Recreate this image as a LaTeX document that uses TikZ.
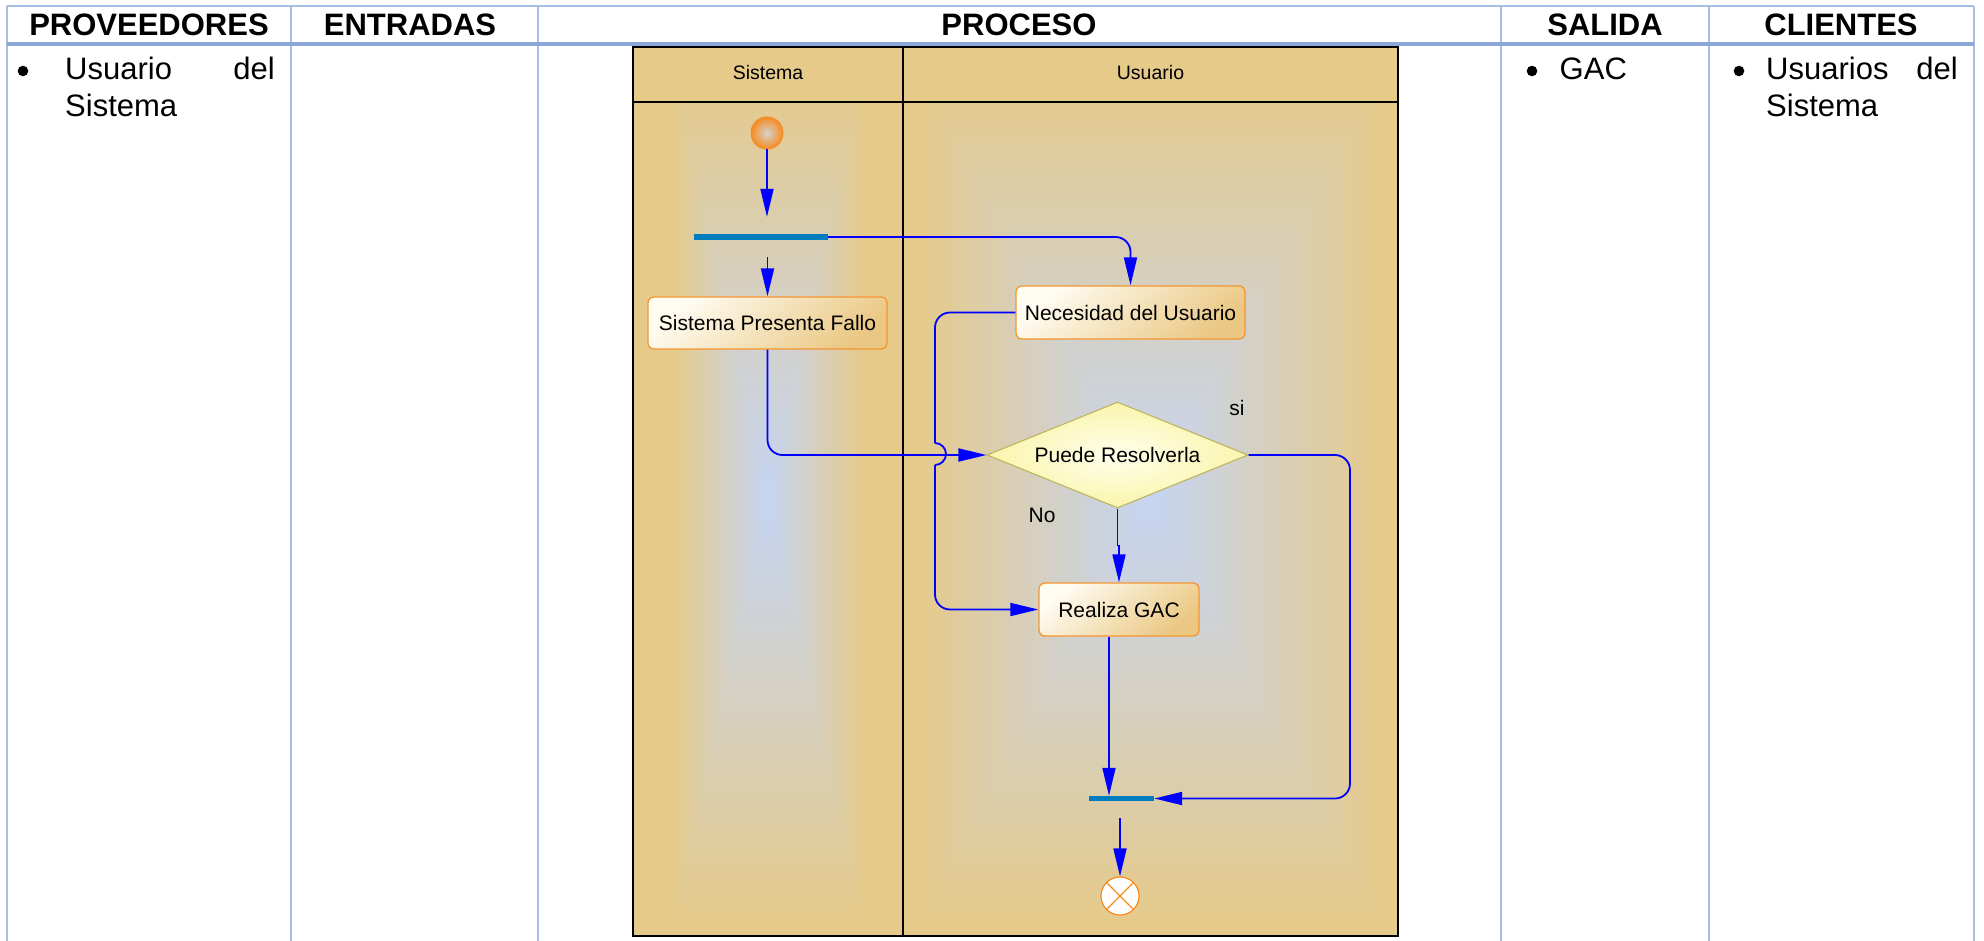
\documentclass[tikz,border=0pt]{standalone}
\usepackage{fontspec}
\setmainfont{Liberation Sans}
\usetikzlibrary{shapes.geometric,arrows.meta,calc}

% table colours
\definecolor{tableline}{RGB}{166,190,228}
\definecolor{tablehead}{RGB}{140,168,216}
% swimlane colours
\definecolor{lanetan}{RGB}{230,202,137}
% activity colours
\definecolor{boxlight}{RGB}{255,252,242}
\definecolor{boxdark}{RGB}{234,200,132}
\definecolor{boxorange}{RGB}{245,150,50}
\definecolor{decin}{RGB}{255,255,236}
\definecolor{decout}{RGB}{250,245,172}
\definecolor{decborder}{RGB}{190,180,95}
\definecolor{barblue}{RGB}{0,125,190}
\definecolor{flowblue}{RGB}{0,0,255}
\definecolor{startorange}{RGB}{245,140,35}
\definecolor{startcore}{RGB}{214,210,205}

% Rectangular glow: light blue core fading out to tan at the lane borders.
% The shaded path covers the central 25bp..75bp square of the shading.
% t = max(kx*|x|, ky*|y|) in normalised coordinates, colour = mix(blue, tan, t).
\pgfdeclarefunctionalshading{glowsis}{\pgfpointorigin}{\pgfpoint{100bp}{100bp}}{}{
  51.25 sub abs 25 div 0.97 mul
  exch 50 sub abs 25 div 1.4 mul
  2 copy lt {exch} if pop
  dup 1 gt {pop 1} if
  dup dup
  -0.416 mul 0.953 add
  3 1 roll
  -0.043 mul 0.835 add
  exch
  0.126 mul 0.776 add
  3 1 roll
  exch
}
\pgfdeclarefunctionalshading{glowusu}{\pgfpointorigin}{\pgfpoint{100bp}{100bp}}{}{
  51.25 sub abs 25 div 0.97 mul
  exch 50 sub abs 25 div 1.05 mul
  2 copy lt {exch} if pop
  dup 1 gt {pop 1} if
  dup dup
  -0.416 mul 0.953 add
  3 1 roll
  -0.043 mul 0.835 add
  exch
  0.126 mul 0.776 add
  3 1 roll
  exch
}

\newcommand\hdrfont{\fontsize{31}{37}\selectfont\bfseries}
\newcommand\bodyfont{\fontsize{31}{37}\selectfont}
\newcommand\actfont{\fontsize{21}{25}\selectfont}
\newcommand\lanefont{\fontsize{19.5}{23}\selectfont}

\tikzset{
  hdr/.style={anchor=base, inner sep=0pt, font=\hdrfont},
  bodyw/.style={anchor=base west, inner sep=0pt, font=\bodyfont},
  bodye/.style={anchor=base east, inner sep=0pt, font=\bodyfont},
  lanelbl/.style={inner sep=0pt, font=\lanefont},
  lbl/.style={inner sep=0pt, font=\actfont},
  act/.style={draw=boxorange, line width=1.3pt, rounded corners=6pt,
    top color=boxlight, bottom color=boxdark, shading angle=40,
    inner sep=0pt, font=\actfont},
  decision/.style={diamond, aspect=2.46, draw=decborder, line width=1.1pt,
    inner color=decin, outer color=decout, inner sep=0pt,
    minimum width=261pt, minimum height=106pt, font=\actfont},
  bar/.style={fill=barblue, draw=none, inner sep=0pt},
  startdot/.style={circle, minimum size=32pt, inner sep=0pt, draw=startorange,
    line width=1pt, inner color=startcore, outer color=startorange},
  enddot/.style={circle, minimum size=38pt, inner sep=0pt, draw=startorange,
    line width=1.2pt, fill=white},
  flowline/.style={draw=flowblue, line width=1.8pt},
  flow/.style={flowline, -{Triangle[length=28pt,width=13pt]}},
  lanebox/.style={draw=black, line width=2pt},
}

\begin{document}
\begin{tikzpicture}[x=1pt,y=-1pt]
\useasboundingbox (0,0) rectangle (1984,941);
\fill[white] (0,0) rectangle (1984,941);

% ---- table grid ----
\draw[tableline, line width=2.2pt] (7,6) -- (1974,6);
\foreach \cx in {7,291,538,1501,1709,1974}
  \draw[tableline, line width=2.2pt] (\cx,6) -- (\cx,941);
\draw[tablehead, line width=4pt] (7,44.5) -- (1974,44.5);

% ---- column headings ----
\node[hdr] (hprov) at (149,36) {PROVEEDORES};
\node[hdr] (hent) at (410,36) {ENTRADAS};
\node[hdr] (hproc) at (1019,36) {PROCESO};
\node[hdr] (hsal) at (1605,36) {SALIDA};
\node[hdr] (hcli) at (1841,36) {CLIENTES};

% ---- cell contents ----
\fill (23,71) circle (5.3);
\node[bodyw] (prov1) at (65,80) {Usuario};
\node[bodye] (prov2) at (275,80) {del};
\node[bodyw] (prov3) at (65,117) {Sistema};

\fill (1532,71) circle (5.3);
\node[bodyw] (sal1) at (1559.5,80) {GAC};

\fill (1739,71) circle (5.3);
\node[bodyw] (cli1) at (1766,80) {Usuarios};
\node[bodye] (cli2) at (1958,80) {del};
\node[bodyw] (cli3) at (1766,117) {Sistema};

% ---- swimlanes ----
\fill[lanetan] (633,47) rectangle (1398,102);
\shade[shading=glowsis] (633,102) rectangle (903,936);
\shade[shading=glowusu] (903,102) rectangle (1398,936);
\draw[lanebox] (633,47) rectangle (1398,936);
\draw[lanebox] (903,47) -- (903,936);
\draw[lanebox] (633,102) -- (1398,102);
\node[lanelbl] (lsis) at (768,73) {Sistema};
\node[lanelbl] (lusu) at (1150.5,73) {Usuario};

% ---- activity nodes ----
\node[startdot] (start) at (767,133) {};
\node[bar, minimum width=134pt, minimum height=6pt] (fork) at (761,237) {};
\node[act, minimum width=239pt, minimum height=52pt] (spf) at (767.5,323) {Sistema Presenta Fallo};
\node[act, minimum width=229pt, minimum height=53pt] (nec) at (1130.5,312.5) {Necesidad del Usuario};
\node[decision] (dec) at (1117.5,455) {Puede Resolverla};
\node[act, minimum width=160pt, minimum height=53pt] (gac) at (1119,609.5) {Realiza GAC};
\node[bar, minimum width=65pt, minimum height=5pt] (join) at (1121.5,798.5) {};
\node[enddot] (end) at (1120,896) {};
\draw[startorange, line width=1.2pt] (end.north west) -- (end.south east)
  (end.north east) -- (end.south west);

\node[lbl] (si) at (1237,408) {si};
\node[lbl] (no) at (1042,515) {No};

% line hop where the "Necesidad" flow crosses the flow into the decision
\coordinate (hopT) at (935,443);
\coordinate (hopB) at (935,465);
\coordinate (rail) at (1350,620);

% ---- control flows ----
\draw[flow, shorten >=17pt] (start.south) -- (start.south |- fork.north);
\draw[flow, shorten <=17pt] (fork.south -| spf.north) -- (spf.north);
\draw[flow, rounded corners=15pt] (fork.east) -| (nec.north);
\draw[flow, rounded corners=15pt] (spf.south) |- (dec.west);
\draw[flowline, rounded corners=15pt] (nec.west) -| (hopT);
\draw[flowline] (hopT) arc[start angle=-90, end angle=90, radius=11];
\draw[flow, rounded corners=15pt] (hopB) |- (gac.west);
\draw[flow] (dec.south) -- ++(0,37) -| (gac.north);
\draw[flow, rounded corners=15pt] (dec.east) -| (rail) |- (join.east);
\draw[flow] ([xshift=-10pt]gac.south) -- ([xshift=-10pt]gac.south |- join.north);
\draw[flow, shorten <=17pt] (join.south -| end.north) -- (end.north);
\end{tikzpicture}
\end{document}
